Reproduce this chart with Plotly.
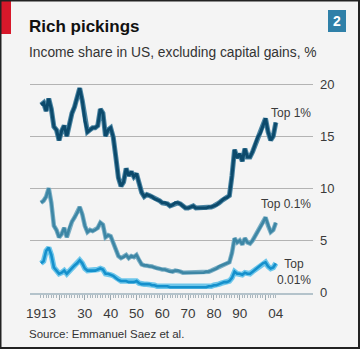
import plotly.graph_objects as go

# Income share of the top earners in the US, excluding capital gains (%)
years = list(range(1913, 2005))

top1 = [
    18.0, 18.2, 17.4, 18.6, 17.6, 15.9, 15.6, 14.6, 15.5, 16.0,   # 1913-1922
    15.0, 16.2, 17.2, 17.8, 18.7, 19.6, 18.4, 16.5, 15.4, 15.6,   # 1923-1932
    15.8, 15.8, 16.0, 17.6, 17.2, 15.0, 15.6, 15.8, 14.9, 13.0,   # 1933-1942
    11.0, 10.2, 10.6, 11.9, 11.2, 11.6, 11.1, 11.4, 10.5, 9.6,    # 1943-1952
    9.2, 9.4, 9.3, 9.2, 9.0, 8.9, 8.8, 8.6, 8.6, 8.5,             # 1953-1962
    8.3, 8.4, 8.6, 8.6, 8.5, 8.3, 8.1, 8.1, 8.2, 8.3,             # 1963-1972
    8.1, 8.1, 8.1, 8.1, 8.1, 8.2, 8.2, 8.3, 8.4, 8.6,             # 1973-1982
    8.8, 9.0, 9.1, 9.3, 11.2, 13.7, 12.9, 13.3, 12.6, 13.8,       # 1983-1992
    13.0, 13.0, 13.5, 14.2, 14.9, 15.3, 16.0, 16.7, 15.4, 14.6,   # 1993-2002
    15.0, 16.3,                                                   # 2003-2004
]

top01 = [
    8.6, 8.8, 9.2, 10.0, 8.6, 6.4, 6.0, 5.3, 5.6, 6.2,            # 1913-1922
    5.3, 6.2, 6.8, 7.2, 7.6, 8.2, 7.5, 6.4, 5.8, 6.0,             # 1923-1932
    5.9, 6.0, 6.2, 6.7, 6.5, 5.3, 5.5, 5.4, 4.8, 4.1,             # 1933-1942
    3.5, 3.3, 3.4, 3.6, 3.3, 3.5, 3.4, 3.6, 3.1, 2.7,             # 1943-1952
    2.6, 2.6, 2.5, 2.5, 2.4, 2.3, 2.3, 2.2, 2.2, 2.1,             # 1953-1962
    2.0, 2.0, 2.1, 2.1, 2.0, 1.9, 1.9, 1.9, 1.9, 1.9,             # 1963-1972
    1.9, 1.9, 1.9, 1.9, 2.0, 2.0, 2.1, 2.2, 2.3, 2.5,             # 1973-1982
    2.6, 2.7, 2.8, 2.9, 3.8, 5.2, 4.8, 5.0, 4.6, 5.2,             # 1983-1992
    4.8, 4.7, 5.0, 5.4, 5.8, 6.2, 6.7, 7.2, 6.4, 5.8,             # 1993-2002
    6.0, 6.7,                                                     # 2003-2004
]

top001 = [
    2.8, 3.0, 4.0, 4.3, 3.6, 2.4, 2.1, 1.8, 1.9, 2.1,             # 1913-1922
    1.8, 2.1, 2.4, 2.6, 2.8, 3.1, 2.8, 2.3, 2.1, 2.1,             # 1923-1932
    2.1, 2.1, 2.2, 2.3, 2.2, 1.8, 1.8, 1.7, 1.6, 1.4,             # 1933-1942
    1.2, 1.1, 1.1, 1.1, 1.0, 1.0, 1.0, 1.1, 0.9, 0.8,             # 1943-1952
    0.8, 0.8, 0.8, 0.7, 0.7, 0.6, 0.6, 0.6, 0.6, 0.6,             # 1953-1962
    0.5, 0.5, 0.5, 0.5, 0.5, 0.5, 0.5, 0.5, 0.5, 0.5,             # 1963-1972
    0.5, 0.5, 0.5, 0.5, 0.5, 0.6, 0.6, 0.7, 0.7, 0.8,             # 1973-1982
    0.9, 1.0, 1.0, 1.1, 1.4, 2.0, 1.8, 1.8, 1.7, 1.9,             # 1983-1992
    1.8, 1.8, 2.0, 2.2, 2.4, 2.6, 2.8, 2.9, 2.5, 2.3,             # 1993-2002
    2.4, 2.8,                                                     # 2003-2004
]

x_label_vals = [1913, 1930, 1940, 1950, 1960, 1970, 1980, 1990, 2004]
x_label_text = ["1913", "30", "40", "50", "60", "70", "80", "90", "04"]
x_decades = [1920, 1930, 1940, 1950, 1960, 1970, 1980, 1990, 2000]
y_ticks = [0, 5, 10, 15, 20]

series = [
    ("Top 1%", top1, "#0c4a6c", "#4a84a2", 5.0, 3.0),
    ("Top 0.1%", top01, "#3d86a5", "#7aaec4", 4.5, 2.6),
    ("Top 0.01%", top001, "#1590cc", "#6ec6ea", 5.5, 2.6),
]

fig = go.Figure()
for name, vals, core, halo, w_halo, w_core in series:
    fig.add_trace(go.Scatter(x=years, y=vals, mode="lines", name=name,
                             line=dict(color=halo, width=w_halo), hoverinfo="skip"))
    fig.add_trace(go.Scatter(x=years, y=vals, mode="lines", name=name,
                             line=dict(color=core, width=w_core)))

# invisible trace that carries the labelled year axis
fig.add_trace(go.Scatter(x=years, y=top1, xaxis="x2", mode="lines",
                         line=dict(width=0), opacity=0, hoverinfo="skip"))

FONT = "Liberation Sans, Arial, sans-serif"
TEXT = "#3a3a3a"

x_range = [1908.74, 2018.4]
PLOT_L, PLOT_R, PLOT_T, PLOT_B = 30, 313, 70, 293
W, H = 360, 349


def px(xp):
    return (xp - PLOT_L) / (PLOT_R - PLOT_L)


def py(yp):
    return (PLOT_B - yp) / (PLOT_B - PLOT_T)


fig.update_layout(
    width=W, height=H,
    margin=dict(l=PLOT_L, r=W - PLOT_R, t=PLOT_T, b=H - PLOT_B, pad=0),
    paper_bgcolor="#f4f4f4", plot_bgcolor="#f4f4f4",
    showlegend=False,
    font=dict(family=FONT, size=13, color=TEXT),
    xaxis=dict(
        range=x_range, showgrid=False, zeroline=False,
        showline=True, linecolor="#b4c3cb", linewidth=2,
        tickmode="array", tickvals=x_decades, showticklabels=False,
        ticks="outside", ticklen=5, tickwidth=1, tickcolor="#9aa8b0",
        minor=dict(tickmode="array", tickvals=years, ticks="outside",
                   ticklen=3, tickwidth=1, tickcolor="#aab6bd", showgrid=False),
    ),
    xaxis2=dict(
        range=x_range, overlaying="x", side="bottom", showgrid=False,
        zeroline=False, showline=False, ticks="",
        tickmode="array", tickvals=x_label_vals, ticktext=x_label_text,
        tickfont=dict(family=FONT, size=13.5, color=TEXT),
        ticklabelstandoff=10,
    ),
    yaxis=dict(
        range=[-(PLOT_B - 292.5) / 10.425, (292.5 - PLOT_T) / 10.425],
        side="right", tickmode="array", tickvals=y_ticks,
        showgrid=True, gridcolor="#b3b3b3", gridwidth=1,
        zeroline=False, showline=False, ticks="",
        tickfont=dict(family=FONT, size=13, color=TEXT),
        ticklabelstandoff=6,
    ),
)

# series labels
fig.add_annotation(x=x_range[1], y=17.2, xref="x", yref="y", text="Top 1%",
                   showarrow=False, xanchor="right", yanchor="middle",
                   font=dict(family=FONT, size=12, color=TEXT))
fig.add_annotation(x=x_range[1], y=8.5, xref="x", yref="y", text="Top 0.1%",
                   showarrow=False, xanchor="right", yanchor="middle",
                   font=dict(family=FONT, size=12, color=TEXT))
fig.add_annotation(x=x_range[1], y=1.95, xref="x", yref="y", text="Top<br>0.01%",
                   showarrow=False, xanchor="right", yanchor="middle", align="center",
                   font=dict(family=FONT, size=12, color=TEXT))

# title, subtitle and source
fig.add_annotation(x=px(27), y=py(26), xref="paper", yref="paper",
                   text="<b>Rich pickings</b>", showarrow=False,
                   xanchor="left", yanchor="middle",
                   font=dict(family=FONT, size=17, color="#111111"))
fig.add_annotation(x=px(27), y=py(52), xref="paper", yref="paper",
                   text="Income share in US, excluding capital gains, %",
                   showarrow=False, xanchor="left", yanchor="middle",
                   font=dict(family=FONT, size=13.8, color="#333333"))
fig.add_annotation(x=px(27), y=py(334), xref="paper", yref="paper",
                   text="Source: Emmanuel Saez et al.", showarrow=False,
                   xanchor="left", yanchor="middle",
                   font=dict(family=FONT, size=11.5, color="#333333"))

# red tab, chart number box and frame
fig.add_shape(type="rect", xref="paper", yref="paper",
              x0=px(0), x1=px(11), y0=py(34), y1=py(0),
              fillcolor="#d7182a", line=dict(width=0))
fig.add_shape(type="rect", xref="paper", yref="paper",
              x0=px(328), x1=px(346), y0=py(32), y1=py(10),
              fillcolor="#2f80a8", line=dict(width=0))
fig.add_annotation(x=px(337), y=py(21), xref="paper", yref="paper",
                   text="<b>2</b>", showarrow=False, xanchor="center", yanchor="middle",
                   font=dict(family=FONT, size=14, color="white"))
fig.add_shape(type="rect", xref="paper", yref="paper",
              x0=px(0.5), x1=px(359), y0=py(348), y1=py(0.5),
              fillcolor="rgba(0,0,0,0)", line=dict(color="#222222", width=2))

fig.write_html("out.html")
